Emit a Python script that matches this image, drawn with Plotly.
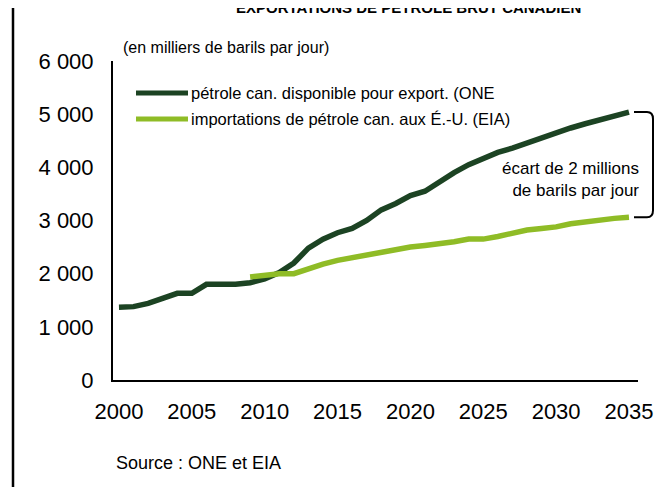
import plotly.graph_objects as go

years_one = list(range(2000, 2036))
one_values = [1370, 1380, 1440, 1530, 1630, 1630, 1800, 1800, 1800, 1830,
              1900, 2020, 2200, 2480, 2650, 2770, 2850, 3000, 3200, 3320,
              3470, 3550, 3740, 3900, 4050, 4170, 4280, 4360, 4460, 4560,
              4650, 4740, 4820, 4890, 4960, 5040]

years_eia = list(range(2009, 2036))
eia_values = [1940, 1970, 2000, 2000, 2100, 2180, 2250, 2300, 2370, 2420,
              2470, 2500, 2530, 2560, 2600, 2650, 2650, 2700, 2760, 2820,
              2850, 2880, 2940, 2980, 3010, 3040, 3060]

x_tick_vals = [2000, 2005, 2010, 2015, 2020, 2025, 2030, 2035]
y_tick_vals = [0, 1000, 2000, 3000, 4000, 5000, 6000]
y_tick_text = ["0", "1 000", "2 000", "3 000", "4 000", "5 000", "6 000"]

name_one = "pétrole can. disponible pour export. (ONE"
name_eia = "importations de pétrole can. aux É.-U. (EIA)"
title_text = "EXPORTATIONS DE PÉTROLE BRUT CANADIEN"
unit_text = "(en milliers de barils par jour)"
gap_text = "écart de 2 millions<br>de barils par jour"
source_text = "Source : ONE et EIA"

DARK = "#1c4323"
LIGHT = "#8fbc26"
FONT = "Liberation Sans, Arial, sans-serif"

# page geometry (pixels of the 665x487 window); the page body has an 8px margin
PAGE_W, PAGE_H = 665, 487
OFF = 8
WIDTH, HEIGHT = PAGE_W - OFF, PAGE_H - OFF
# plot area in page pixels
PL, PR, PT, PB = 113, 638, 61, 380
L, R, T, B = PL - OFF, PR - OFF, PT - OFF, PB - OFF
W, H = R - L, B - T
Y_MAX = 6000


def px2x(px):
    """page pixel x -> paper x"""
    return (px - OFF - L) / W


def px2y(py):
    """page pixel y -> paper y"""
    return (B - (py - OFF)) / H


fig = go.Figure()
fig.add_trace(go.Scatter(x=years_one, y=one_values, mode="lines", name=name_one,
                         line=dict(color=DARK, width=5.5), showlegend=False))
fig.add_trace(go.Scatter(x=years_eia, y=eia_values, mode="lines", name=name_eia,
                         line=dict(color=LIGHT, width=5.5), showlegend=False))

shapes = []
# legend swatches
for py, col in [(93, DARK), (119, LIGHT)]:
    shapes.append(dict(type="line", xref="paper", yref="paper",
                       x0=px2x(136), x1=px2x(188), y0=px2y(py), y1=px2y(py),
                       line=dict(color=col, width=5)))
# left border line
shapes.append(dict(type="line", xref="paper", yref="paper",
                   x0=px2x(13), x1=px2x(13), y0=px2y(0), y1=px2y(PAGE_H + 5),
                   line=dict(color="black", width=2.5)))
# bracket between the two 2035 values
yt = one_values[-1] / Y_MAX
yb = eia_values[-1] / Y_MAX
r = 7 / H
xs, xc, xv = px2x(634), px2x(647), px2x(653)
path = (f"M {xs},{yt} L {xc},{yt} Q {xv},{yt} {xv},{yt - r} "
        f"L {xv},{yb + r} Q {xv},{yb} {xc},{yb} L {xs},{yb}")
shapes.append(dict(type="path", xref="paper", yref="paper", path=path,
                   line=dict(color="black", width=2)))

annotations = [
    dict(text=f"<b>{title_text}</b>", xref="paper", yref="paper",
         x=px2x(408), y=px2y(OFF - 1), xanchor="center", yanchor="middle",
         showarrow=False, font=dict(size=15, color="black", family=FONT)),
    dict(text=unit_text, xref="paper", yref="paper",
         x=px2x(121), y=px2y(48), xanchor="left", yanchor="middle",
         showarrow=False, font=dict(size=16, color="black", family=FONT)),
    dict(text=name_one, xref="paper", yref="paper",
         x=px2x(189), y=px2y(93), xanchor="left", yanchor="middle",
         showarrow=False, font=dict(size=16.5, color="black", family=FONT)),
    dict(text=name_eia, xref="paper", yref="paper",
         x=px2x(189), y=px2y(119), xanchor="left", yanchor="middle",
         showarrow=False, font=dict(size=16.5, color="black", family=FONT)),
    dict(text=gap_text, xref="paper", yref="paper",
         x=px2x(641), y=px2y(179), xanchor="right", yanchor="middle",
         align="right", showarrow=False,
         font=dict(size=17, color="black", family=FONT)),
    dict(text=source_text, xref="paper", yref="paper",
         x=px2x(114), y=px2y(463), xanchor="left", yanchor="middle",
         showarrow=False, font=dict(size=18, color="black", family=FONT)),
]

fig.update_layout(
    width=WIDTH, height=HEIGHT,
    margin=dict(l=L, r=WIDTH - R, t=T, b=HEIGHT - B, pad=0),
    paper_bgcolor="white", plot_bgcolor="white",
    font=dict(family=FONT, color="black"),
    shapes=shapes, annotations=annotations,
    showlegend=False,
    xaxis=dict(range=[1999.59, 2035.62], tickvals=x_tick_vals,
               showgrid=False, zeroline=False, showline=True,
               linecolor="black", linewidth=2, ticks="",
               ticklabelstandoff=11,
               tickfont=dict(size=22, color="black", family=FONT)),
    yaxis=dict(range=[0, Y_MAX], tickvals=y_tick_vals, ticktext=y_tick_text,
               showgrid=False, zeroline=False, showline=True,
               linecolor="black", linewidth=2, ticks="",
               ticklabelstandoff=13,
               tickfont=dict(size=22, color="black", family=FONT)),
)

fig.write_html("out.html")
